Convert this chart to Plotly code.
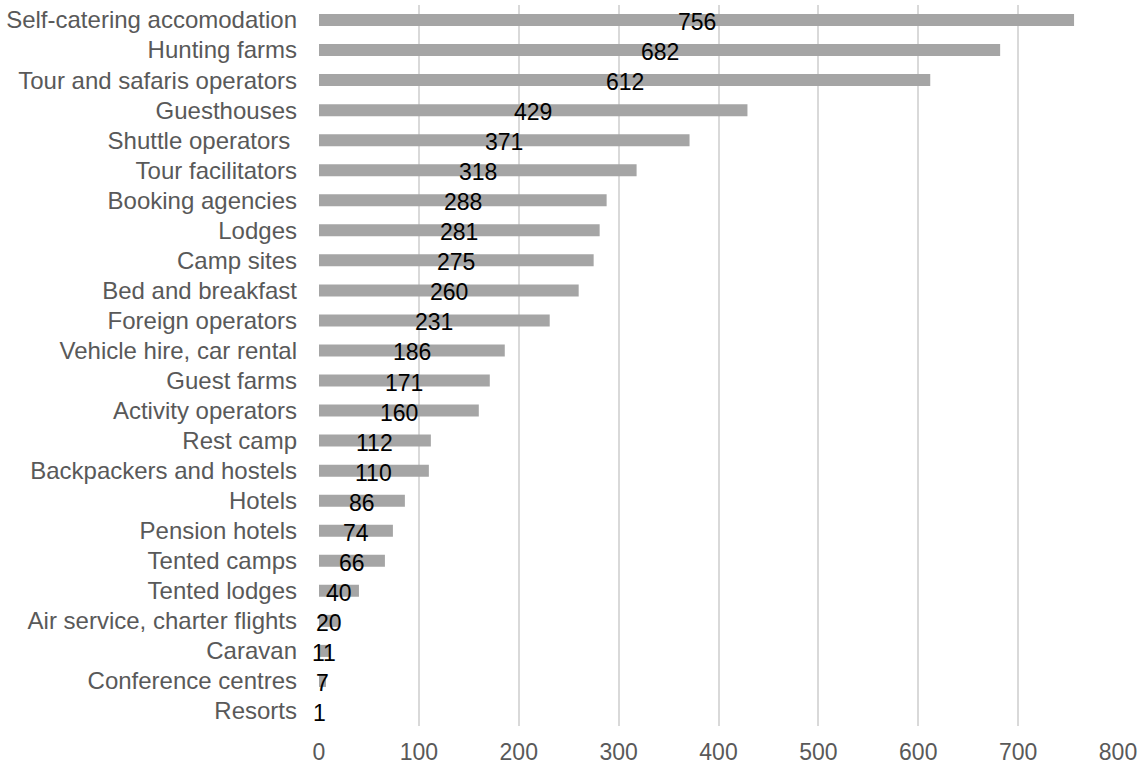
import plotly.graph_objects as go

categories = [
    "Self-catering accomodation", "Hunting farms", "Tour and safaris operators",
    "Guesthouses", "Shuttle operators\u00a0", "Tour facilitators", "Booking agencies",
    "Lodges", "Camp sites", "Bed and breakfast", "Foreign operators",
    "Vehicle hire, car rental", "Guest farms", "Activity operators", "Rest camp",
    "Backpackers and hostels", "Hotels", "Pension hotels", "Tented camps",
    "Tented lodges", "Air service, charter flights", "Caravan",
    "Conference centres", "Resorts",
]
counts = [756, 682, 612, 429, 371, 318, 288, 281, 275, 260, 231, 186, 171, 160,
          112, 110, 86, 74, 66, 40, 20, 11, 7, 1]
x_ticks = [0, 100, 200, 300, 400, 500, 600, 700, 800]

FONT = "Liberation Sans, Arial, sans-serif"
GREY_TEXT = "#595959"

fig = go.Figure()
fig.add_trace(go.Bar(
    x=counts, y=categories, orientation="h",
    marker=dict(color="#A5A5A5", line=dict(width=0)),
    width=0.4, hoverinfo="x+y", showlegend=False,
))

# value labels centred along each bar
for cat, val in zip(categories, counts):
    fig.add_annotation(
        x=val / 2, y=cat, text=str(val), showarrow=False,
        xanchor="center", yanchor="middle", yshift=-2,
        font=dict(family=FONT, size=23, color="#000000"),
    )

fig.update_layout(
    width=1141, height=765,
    margin=dict(l=319, r=23, t=5, b=39),
    paper_bgcolor="white", plot_bgcolor="white",
    font=dict(family=FONT, color=GREY_TEXT),
    bargap=0.6,
)
fig.update_xaxes(
    range=[0, 800], tickvals=x_ticks, ticktext=[str(t) for t in x_ticks],
    showgrid=True, gridcolor="#D9D9D9", gridwidth=2,
    zeroline=False, showline=False, automargin=False,
    tickfont=dict(family=FONT, size=23, color=GREY_TEXT),
    ticklabelstandoff=10,
)
fig.update_yaxes(
    categoryorder="array", categoryarray=categories,
    range=[len(categories) - 0.5, -0.5],
    showgrid=False, zeroline=False, showline=False, automargin=False,
    tickfont=dict(family=FONT, size=24, color=GREY_TEXT),
    ticklabelstandoff=21,
)

fig.write_html("out.html")
